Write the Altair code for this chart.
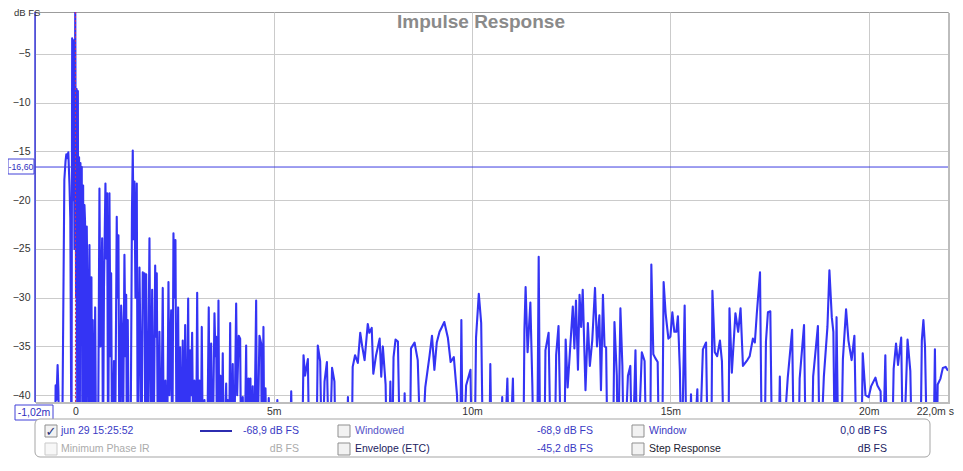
import altair as alt
import pandas as pd

# ---------------- data (time in ms, level in dB FS) ----------------
ir_early = [
    (-1.02, -48), (-0.52, -48), (-0.50, -39.0), (-0.48, -40.5), (-0.45, -36.9), (-0.43, -39.5), (-0.40, -48),
    (-0.34, -48), (-0.28, -17.9), (-0.25, -16.0), (-0.23, -15.3), (-0.20, -15.7), (-0.18, -15.1), (-0.15, -18.5),
    (-0.13, -21.8), (-0.10, -48),
    (-0.083, -3.4), (-0.063, -20.0), (-0.045, -3.6), (-0.025, -25.0), (-0.005, 0.0), (0.015, -30.0), (0.030, -8.6),
    (0.045, -45.0), (0.061, -8.8), (0.076, -48), (0.091, -15.6), (0.108, -48), (0.126, -16.2), (0.141, -22.0),
    (0.159, -16.6), (0.176, -48), (0.194, -18.5), (0.209, -48), (0.227, -20.5), (0.242, -22.2), (0.257, -48),
    (0.285, -22.7), (0.310, -32.0), (0.328, -48), (0.353, -24.6), (0.378, -48), (0.403, -27.9), (0.421, -48),
    (0.436, -32.3), (0.466, -48), (0.497, -31.0), (0.522, -48),
    (0.567, -48), (0.605, -18.8), (0.630, -35.0), (0.673, -23.9), (0.693, -48), (0.719, -29.0), (0.756, -18.3),
    (0.782, -26.0), (0.799, -19.3), (0.824, -48), (0.857, -19.3), (0.882, -36.0), (0.900, -27.5), (0.925, -48),
    (0.971, -36.5), (0.996, -48),
    (1.041, -21.7), (1.059, -30.0), (1.084, -23.6), (1.109, -48), (1.152, -30.8), (1.172, -33.0), (1.193, -48),
    (1.235, -25.6), (1.261, -36.0), (1.279, -29.7), (1.298, -48), (1.319, -32.3), (1.349, -48),
    (1.387, -48), (1.425, -21.0), (1.445, -14.9), (1.467, -24.0), (1.488, -18.1), (1.513, -30.0), (1.546, -18.3),
    (1.571, -48), (1.614, -26.9), (1.639, -35.0), (1.664, -48), (1.697, -27.4), (1.722, -31.0), (1.740, -27.5),
    (1.765, -48), (1.783, -27.6), (1.815, -48),
]

ir_mid = [
    (1.866, -23.9), (1.899, -45), (1.934, -29.2), (1.967, -48), (2.010, -26.7), (2.030, -34.0), (2.050, -27.5),
    (2.080, -48), (2.118, -33.5), (2.156, -48), (2.201, -29.0), (2.231, -48), (2.269, -38.5), (2.307, -48),
    (2.345, -28.4), (2.370, -40.0), (2.413, -31.3), (2.441, -48), (2.471, -23.4), (2.496, -30.0), (2.521, -24.1),
    (2.552, -48), (2.589, -31.0), (2.617, -48), (2.640, -35.1), (2.673, -48), (2.705, -34.4), (2.736, -48),
    (2.766, -32.8), (2.799, -48), (2.842, -30.1), (2.869, -48), (2.892, -35.4), (2.917, -40.0), (2.942, -33.6),
    (2.975, -48), (3.000, -38.5), (3.038, -48), (3.069, -29.5), (3.101, -48), (3.127, -38.5), (3.159, -48),
    (3.185, -33.0), (3.215, -48), (3.253, -40.5), (3.316, -48), (3.361, -31.0), (3.391, -48), (3.422, -34.7),
    (3.454, -48), (3.505, -31.6), (3.530, -36.0), (3.548, -34.0), (3.573, -48), (3.606, -30.3), (3.631, -48),
    (3.656, -38.0), (3.681, -48), (3.714, -35.7), (3.744, -48), (3.800, -38.8), (3.825, -48), (3.840, -40.5),
    (3.870, -48), (3.901, -32.6), (3.926, -48), (3.966, -36.8), (3.996, -48), (4.052, -30.6), (4.077, -40.0),
    (4.117, -33.9), (4.153, -34.2), (4.178, -48), (4.218, -40.2), (4.261, -48), (4.304, -34.9), (4.329, -48),
    (4.362, -38.3), (4.387, -48), (4.412, -38.3), (4.438, -48), (4.470, -39.1), (4.501, -48), (4.556, -30.3),
    (4.581, -48), (4.614, -40.0), (4.639, -33.9), (4.682, -34.7), (4.702, -48), (4.740, -33.0), (4.765, -48),
    (4.791, -39.3), (4.828, -48), (4.874, -40.3), (4.917, -48),
]

ir_late = [
    (5.03, -48), (5.09, -40.5), (5.14, -48),
    (5.40, -48), (5.44, -39.6), (5.48, -48),
    (5.71, -48), (5.75, -35.9), (5.79, -38.0), (5.86, -36.3), (5.90, -48),
    (6.07, -48), (6.11, -34.9), (6.17, -36.5), (6.22, -48), (6.28, -38.6), (6.34, -36.6), (6.40, -48),
    (6.47, -37.2), (6.53, -38.6), (6.57, -48),
    (6.83, -48), (6.87, -40.2), (6.91, -48),
    (6.96, -48), (6.99, -37.1), (7.05, -35.9), (7.12, -36.7), (7.18, -33.6), (7.23, -35.0), (7.29, -36.4),
    (7.37, -32.7), (7.41, -33.6), (7.47, -33.1), (7.51, -37.8), (7.58, -35.9), (7.67, -34.2), (7.71, -38.1),
    (7.75, -35.0), (7.82, -38.9), (7.86, -48),
    (7.90, -48), (7.94, -38.6), (7.98, -48), (8.02, -36.1), (8.07, -34.3), (8.13, -34.5), (8.19, -48),
    (8.26, -48), (8.30, -39.8), (8.34, -48),
    (8.43, -48), (8.46, -35.2), (8.55, -34.6), (8.63, -36.4), (8.72, -48), (8.82, -39.2), (8.93, -35.9),
    (8.99, -33.9), (9.05, -37.4), (9.11, -34.6), (9.18, -33.5), (9.24, -33.0), (9.30, -32.5), (9.39, -34.1),
    (9.46, -36.6), (9.54, -36.1), (9.62, -40.0), (9.69, -48),
    (9.70, -48), (9.73, -32.3), (9.77, -48), (9.85, -39.0), (9.96, -37.4), (10.00, -48),
    (10.06, -48), (10.10, -34.1), (10.17, -29.6), (10.23, -32.6), (10.28, -48),
    (10.43, -48), (10.46, -36.8), (10.50, -48),
    (10.72, -48), (10.76, -40.2), (10.80, -48), (10.89, -38.3), (10.94, -48), (11.03, -38.3), (11.07, -48),
    (11.29, -48), (11.32, -33.3), (11.35, -28.9), (11.40, -35.6), (11.47, -30.5), (11.52, -39.0), (11.56, -48),
    (11.64, -48), (11.68, -25.8), (11.72, -48),
    (11.82, -48), (11.85, -35.4), (11.93, -33.6), (11.99, -48),
    (12.08, -48), (12.12, -35.9), (12.18, -32.9), (12.25, -48),
    (12.32, -48), (12.36, -34.3), (12.41, -39.2), (12.54, -30.9), (12.58, -35.2), (12.62, -30.3), (12.67, -37.4),
    (12.71, -29.7), (12.75, -33.0), (12.79, -29.2), (12.86, -39.5), (12.92, -32.6), (12.97, -37.0), (13.03, -34.4),
    (13.10, -29.0), (13.15, -35.0), (13.21, -31.8), (13.25, -39.5), (13.30, -29.7), (13.34, -35.0), (13.38, -35.1),
    (13.42, -48),
    (13.55, -48), (13.59, -32.5), (13.65, -38.0), (13.68, -48), (13.74, -31.1), (13.79, -37.0), (13.83, -48),
    (13.93, -38.0), (13.99, -37.0), (14.04, -48), (14.12, -35.4), (14.17, -48), (14.28, -35.6), (14.35, -36.5),
    (14.40, -48),
    (14.49, -48), (14.52, -26.6), (14.57, -35.8), (14.62, -36.2), (14.68, -36.6), (14.72, -48),
    (14.79, -48), (14.83, -28.4), (14.88, -31.6), (14.95, -34.2), (15.00, -34.0), (15.05, -31.5), (15.10, -33.5),
    (15.15, -33.5), (15.19, -31.9), (15.24, -37.5), (15.28, -48), (15.36, -30.8), (15.41, -48),
    (15.49, -48), (15.52, -39.9), (15.57, -48), (15.68, -39.4), (15.72, -48), (15.82, -35.3), (15.90, -34.6),
    (15.95, -48),
    (16.03, -48), (16.06, -29.3), (16.12, -35.6), (16.18, -36.0), (16.25, -34.4), (16.30, -36.5), (16.36, -48),
    (16.46, -48), (16.49, -31.1), (16.55, -37.7), (16.64, -31.6), (16.71, -33.5), (16.77, -31.1), (16.83, -37.0),
    (16.94, -36.4), (17.00, -36.0), (17.08, -34.2), (17.13, -34.6), (17.18, -31.6), (17.26, -27.4), (17.31, -48),
    (17.37, -48), (17.41, -34.5), (17.46, -31.5), (17.52, -31.4), (17.57, -48),
    (17.72, -48), (17.76, -38.1), (17.80, -48), (17.96, -38.2), (18.07, -33.3), (18.12, -48),
    (18.22, -48), (18.26, -38.3), (18.37, -32.8), (18.42, -48),
    (18.56, -48), (18.60, -38.1), (18.72, -32.9), (18.77, -48), (18.87, -38.1), (18.96, -33.0), (19.01, -27.2),
    (19.07, -32.0), (19.11, -33.5), (19.15, -48), (19.19, -32.0), (19.24, -48),
    (19.30, -48), (19.35, -36.3), (19.43, -31.2), (19.49, -34.4), (19.57, -36.4), (19.64, -33.9), (19.70, -48),
    (19.81, -48), (19.85, -35.7), (19.92, -40.0), (20.00, -40.2), (20.06, -39.1), (20.17, -38.2), (20.22, -39.0),
    (20.30, -39.6), (20.35, -48), (20.42, -35.9), (20.47, -48),
    (20.58, -48), (20.63, -37.3), (20.69, -34.7), (20.74, -36.9), (20.82, -34.1), (20.87, -48), (20.98, -34.3),
    (21.05, -37.5), (21.10, -48),
    (21.30, -48), (21.34, -34.4), (21.38, -32.3), (21.42, -35.0), (21.48, -48),
    (21.63, -48), (21.67, -35.3), (21.71, -48), (21.74, -38.9), (21.81, -38.3), (21.87, -37.2), (21.94, -37.1),
    (22.0, -37.5),
]

x_ticks = [0, 5, 10, 15, 20]
y_ticks = [-5, -10, -15, -20, -25, -30, -35, -40]
x_domain = [-1.02, 22.0]
y_domain = [-40.7, -0.7]
cursor_level = -16.6
cursor_time = -1.02
peak_time = 0.0

title_text = "Impulse Response"
y_unit = "dB FS"
cursor_level_label = "-16,60"
cursor_time_label = "-1,02m"
x_end_label = "22,0m s"

legend_row1 = ["jun 29 15:25:52", "-68,9 dB FS", "Windowed", "-68,9 dB FS", "Window", "0,0 dB FS"]
legend_row2 = ["Minimum Phase IR", "dB FS", "Envelope (ETC)", "-45,2 dB FS", "Step Response", "dB FS"]

# ---------------- chart ----------------
BLUE = "#3434f4"
FONT = "Liberation Sans"
W, H = 913, 390

ir = pd.DataFrame(ir_early + ir_mid + ir_late, columns=["t", "db"])
one = pd.DataFrame({"k": [0]})

X = alt.X("t:Q", scale=alt.Scale(domain=x_domain, nice=False, zero=False),
          axis=alt.Axis(values=x_ticks, labelExpr="datum.value == 0 ? '0' : datum.value + 'm'",
                        grid=True, gridColor="#cbcbcb", domain=False, ticks=False, tickSize=0,
                        labelPadding=4, title=None, labelFlush=False))
Y = alt.Y("db:Q", scale=alt.Scale(domain=y_domain, nice=False, zero=False),
          axis=alt.Axis(values=y_ticks, grid=True, gridColor="#cbcbcb", domain=False, ticks=False,
                        tickSize=0, labelPadding=5, title=None))

line = alt.Chart(ir).mark_line(color=BLUE, strokeWidth=2.1, clip=True, strokeJoin="round").encode(x=X, y=Y)

hline = alt.Chart(one).mark_rule(color="#3d3de0", strokeWidth=1).encode(y=alt.datum(cursor_level))
left_cursor = alt.Chart(one).mark_rule(color="#3d3de0", strokeWidth=1.5).encode(x=alt.datum(cursor_time))
peak_line = alt.Chart(one).mark_rule(color="#c8306a", strokeWidth=1, strokeDash=[2, 2]).encode(
    x=alt.datum(peak_time))

shadow_r = alt.Chart(one).mark_rect(color="#bdbdbd").encode(
    x=alt.value(W), x2=alt.value(W + 2), y=alt.value(1), y2=alt.value(H + 2))
shadow_b = alt.Chart(one).mark_rect(color="#bdbdbd").encode(
    x=alt.value(1), x2=alt.value(W + 2), y=alt.value(H), y2=alt.value(H + 2))


def txt(text, x, y, color, align="left", size=10.5, weight="normal", font=FONT, baseline="middle"):
    return alt.Chart(one).mark_text(align=align, baseline=baseline, fontSize=size, font=font,
                                    fontWeight=weight, color=color).encode(
        x=alt.value(x), y=alt.value(y), text=alt.value(text))


def box(x1, x2, y1, y2, stroke, fill="#ffffff", radius=0, width=1):
    return alt.Chart(one).mark_rect(stroke=stroke, fill=fill, cornerRadius=radius, strokeWidth=width).encode(
        x=alt.value(x1), x2=alt.value(x2), y=alt.value(y1), y2=alt.value(y2))


def checkbox(x, y, enabled=True, checked=False):
    layers = [box(x, x + 12, y - 6, y + 6, "#8f8f8f" if enabled else "#c9c9c9",
                  fill="#f2f2f2" if enabled else "#f7f7f7")]
    if checked:
        layers.append(txt("✓", x + 6, y + 1, "#26337a", align="center", size=13, weight="bold",
                          font="DejaVu Sans"))
    return layers


layers = [line, hline, left_cursor, peak_line, shadow_r, shadow_b]

# title and unit
layers.append(txt(title_text, 446, 10, "#8a8a8a", align="center", size=19, weight="bold"))
layers.append(txt(y_unit, -21, -4, "#333333", size=9.5, baseline="top"))

# cursor boxes
layers.append(box(-27, -1, 147, 162, "#4040d8"))
layers.append(txt(cursor_level_label, -14, 155, "#3030c0", align="center", size=8.8))
layers.append(box(-20, 18, 393, 408, "#4040d8"))
layers.append(txt(cursor_time_label, -1, 401, "#3030c0", align="center", size=10.5))
layers.append(txt(x_end_label, 919, 400, "#333333", align="right", size=10.5))

# legend
layers.append(box(0, 895, 407, 445, "#a5a5a5", fill="#ffffff", radius=5))
r1, r2 = 419, 437
layers += checkbox(10, r1, checked=True)
layers.append(txt(legend_row1[0], 26, r1, "#3a3ac4"))
layers.append(alt.Chart(one).mark_rule(color="#2c2cb0", strokeWidth=2).encode(
    x=alt.value(165), x2=alt.value(197), y=alt.value(r1)))
layers.append(txt(legend_row1[1], 264, r1, "#3a3ac4", align="right"))
layers += checkbox(303, r1)
layers.append(txt(legend_row1[2], 320, r1, "#5454c8"))
layers.append(txt(legend_row1[3], 558, r1, "#3a3ac4", align="right"))
layers += checkbox(597, r1)
layers.append(txt(legend_row1[4], 614, r1, "#3a3ac4"))
layers.append(txt(legend_row1[5], 852, r1, "#1c1c80", align="right"))

layers += checkbox(10, r2, enabled=False)
layers.append(txt(legend_row2[0], 26, r2, "#ababab"))
layers.append(txt(legend_row2[1], 264, r2, "#ababab", align="right"))
layers += checkbox(303, r2)
layers.append(txt(legend_row2[2], 320, r2, "#22225e"))
layers.append(txt(legend_row2[3], 558, r2, "#3a3ac4", align="right"))
layers += checkbox(597, r2)
layers.append(txt(legend_row2[4], 614, r2, "#222230"))
layers.append(txt(legend_row2[5], 852, r2, "#22225e", align="right"))

chart = alt.layer(*layers).properties(
    width=W, height=H,
    autosize=alt.AutoSizeParams(type="none"),
    padding={"left": 27, "top": 4, "right": 7, "bottom": 56},
    background="#ffffff",
).configure_view(stroke="#9c9c9c", strokeWidth=1).configure_axis(
    labelFont=FONT, labelFontSize=10.5, labelColor="#333333"
)

chart.save("out.html", embed_options={"renderer": "svg", "actions": False})
